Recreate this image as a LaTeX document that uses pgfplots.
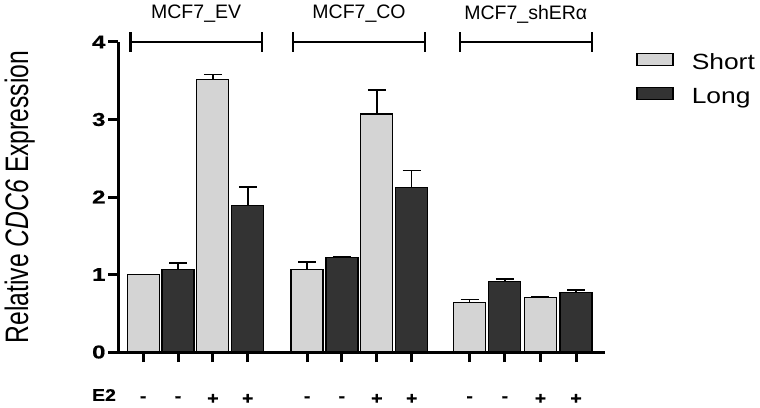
\documentclass[border=0pt]{standalone}
\usepackage{fontspec}
\setmainfont{Liberation Sans}
\newfontfamily\tickfont{Liberation Sans}[FakeStretch=1.3,BoldFeatures={FakeBold=0.6}]
\newfontfamily\etwofont{Liberation Sans}[FakeStretch=1.15,BoldFeatures={FakeBold=0.5}]
\newfontfamily\ylabfont{Liberation Sans}[FakeStretch=0.76]
\newfontfamily\legfont{Liberation Sans}[FakeStretch=1.2]
\usepackage{pgfplots}
\pgfplotsset{compat=1.18}
\definecolor{shortc}{gray}{0.83}
\definecolor{longc}{gray}{0.2}

\begin{document}
\begin{tikzpicture}
\useasboundingbox (0,0) rectangle (760pt,407pt);
\begin{axis}[
    at={(118pt,55pt)}, anchor=south west,
    scale only axis, width=487pt, height=310pt,
    xmin=0.28, xmax=14.24, ymin=0, ymax=4,
    axis x line*=bottom, axis y line*=left,
    axis line style={line width=3pt,-},
    tick align=outside, major tick length=10pt,
    every tick/.append style={line width=3pt,black},
    major tick style={line width=3pt,black},
    clip=false,
    ytick={0,1,2,3,4},
    yticklabel style={font=\tickfont\bfseries\fontsize{18.5}{18.5}\selectfont,xshift=1pt},
    /pgf/number format/assume math mode=true,
    xtick={1,2,3,4,5.7,6.7,7.7,8.7,10.36,11.37,12.39,13.41},
    xticklabels={-,-,+,+,-,-,+,+,-,-,+,+},
    xticklabel style={font=\etwofont\bfseries\fontsize{17}{17}\selectfont,anchor=center,yshift=-37pt},
    ylabel={Relative \textit{CDC6} Expression},
    ylabel style={font=\ylabfont\fontsize{32.5}{32.5}\selectfont,at={(axis description cs:-0.202,0.5)},anchor=center},
    ybar, bar shift=0pt, bar width=32pt,
    legend image code/.code={\draw[#1,line width=1.3pt] (0pt,-1pt) rectangle (36pt,11pt);},
    legend style={at={(axis description cs:1.058,0.975)}, anchor=north west, draw=none, fill=none,
      font=\legfont\fontsize{22}{22}\selectfont, row sep=9pt,
      nodes={text height=16pt,text depth=5pt},
      /tikz/every odd column/.append style={column sep=16pt}},
    legend cell align=left,
    error bars/y dir=plus, error bars/y explicit,
    error bars/error bar style={line width=1.5pt,black},
    error bars/error mark options={line width=1.5pt,black,mark size=9pt,rotate=90},
  ]
  \addplot[fill=shortc,draw=black,line width=1.2pt] coordinates {
    (1,1.00) +- (0,0.00)
    (3,3.52) +- (0,0.06)
    (5.7,1.06) +- (0,0.10)
    (7.7,3.07) +- (0,0.31)
    (10.36,0.64) +- (0,0.04)
    (12.39,0.70) +- (0,0.01)
  };
  \addplot[fill=longc,draw=black,line width=1.2pt] coordinates {
    (2,1.06) +- (0,0.09)
    (4,1.89) +- (0,0.24)
    (6.7,1.22) +- (0,0.01)
    (8.7,2.12) +- (0,0.22)
    (11.37,0.91) +- (0,0.03)
    (13.41,0.77) +- (0,0.03)
  };
  \legend{Short,Long}
  % group brackets
  \draw[line width=2.6pt] (axis cs:0.63,4) -- (axis cs:4.41,4);
  \draw[line width=2.6pt] ([yshift=-10pt]axis cs:0.63,4) -- ([yshift=10pt]axis cs:0.63,4);
  \draw[line width=2.6pt] ([yshift=-10pt]axis cs:4.41,4) -- ([yshift=10pt]axis cs:4.41,4);
  \draw[line width=2.6pt] (axis cs:5.30,4) -- (axis cs:9.08,4);
  \draw[line width=2.6pt] ([yshift=-10pt]axis cs:5.30,4) -- ([yshift=10pt]axis cs:5.30,4);
  \draw[line width=2.6pt] ([yshift=-10pt]axis cs:9.08,4) -- ([yshift=10pt]axis cs:9.08,4);
  \draw[line width=2.6pt] (axis cs:10.08,4) -- (axis cs:13.87,4);
  \draw[line width=2.6pt] ([yshift=-10pt]axis cs:10.08,4) -- ([yshift=10pt]axis cs:10.08,4);
  \draw[line width=2.6pt] ([yshift=-10pt]axis cs:13.87,4) -- ([yshift=10pt]axis cs:13.87,4);
  \node[font=\fontsize{19.5}{19.5}\selectfont] at ([yshift=28pt]axis cs:2.52,4) {MCF7\_EV};
  \node[font=\fontsize{19.5}{19.5}\selectfont] at ([yshift=28pt]axis cs:7.19,4) {MCF7\_CO};
  \node[font=\fontsize{19.5}{19.5}\selectfont] at ([yshift=28pt]axis cs:11.97,4) {MCF7\_shERα};
  \node[font=\etwofont\bfseries\fontsize{17}{17}\selectfont] at ([xshift=-14pt,yshift=-43pt]rel axis cs:0,0) {E2};
\end{axis}
\end{tikzpicture}
\end{document}
